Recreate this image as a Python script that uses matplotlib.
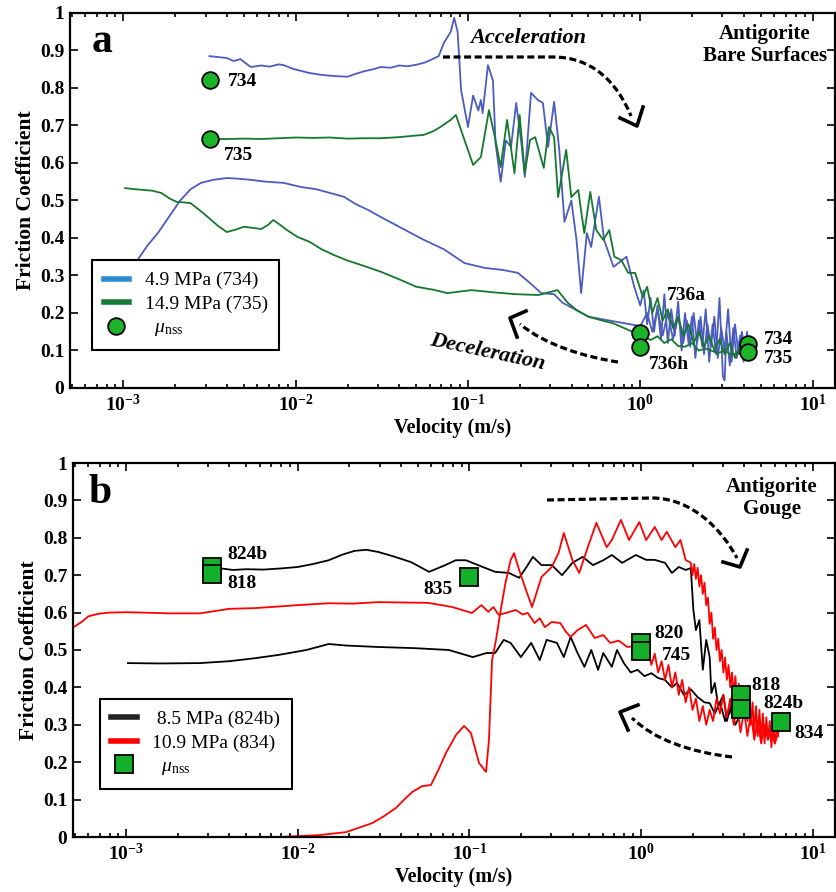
import numpy as np
import matplotlib
matplotlib.use("Agg")
import matplotlib.pyplot as plt
from matplotlib.path import Path
from matplotlib.patches import PathPatch
from matplotlib.lines import Line2D
from matplotlib.font_manager import FontProperties

plt.rcParams['font.family'] = ['Liberation Serif', 'DejaVu Serif']
plt.rcParams['font.weight'] = 'bold'
plt.rcParams['mathtext.fontset'] = 'custom'
plt.rcParams['mathtext.rm'] = 'Liberation Serif:regular'
plt.rcParams['mathtext.it'] = 'Liberation Serif:italic:regular'
plt.rcParams['mathtext.bf'] = 'Liberation Serif:bold'

# ---- panel a : bare surfaces (log10 velocity, friction) ----
a734_acc_logv = [-2.50, -2.44, -2.40, -2.36, -2.32, -2.29, -2.26, -2.20, -2.15, -2.10, -2.07, -2.02, -1.99,
                 -1.92, -1.85, -1.78, -1.70, -1.65, -1.60, -1.55, -1.506, -1.45, -1.40, -1.35, -1.30, -1.25,
                 -1.215, -1.17, -1.14, -1.10, -1.08, -1.06, -1.04, -1.00, -0.97, -0.94, -0.925, -0.915,
                 -0.884, -0.855, -0.84, -0.81, -0.78, -0.75, -0.72, -0.69, -0.67, -0.634, -0.594, -0.565,
                 -0.535, -0.50, -0.47, -0.44, -0.40, -0.37, -0.343, -0.31, -0.285, -0.24, -0.21, -0.155,
                 -0.08, -0.035,
                 0.00, 0.02, 0.04, 0.06, 0.08, 0.10, 0.12, 0.14, 0.16, 0.18, 0.20, 0.22, 0.24, 0.26, 0.28,
                 0.30, 0.32, 0.34, 0.36, 0.38, 0.40, 0.42, 0.44, 0.46, 0.48, 0.49, 0.50, 0.52, 0.54, 0.56,
                 0.58, 0.60, 0.62, 0.63]
a734_acc_mu = [0.885, 0.882, 0.880, 0.872, 0.877, 0.866, 0.856, 0.860, 0.857, 0.863, 0.861, 0.852, 0.848,
               0.840, 0.835, 0.832, 0.830, 0.838, 0.845, 0.850, 0.856, 0.854, 0.860, 0.858, 0.862, 0.868,
               0.875, 0.885, 0.92, 0.95, 0.987, 0.95, 0.795, 0.696, 0.78, 0.74, 0.768, 0.733,
               0.861, 0.82, 0.653, 0.55, 0.66, 0.643, 0.76, 0.653, 0.563, 0.787, 0.768, 0.76,
               0.643, 0.763, 0.635, 0.443, 0.50, 0.395, 0.253, 0.413, 0.376, 0.51, 0.395, 0.323,
               0.35, 0.27,
               0.22, 0.26, 0.17, 0.24, 0.15, 0.22, 0.13, 0.25, 0.12, 0.21, 0.14, 0.23, 0.10, 0.20, 0.12,
               0.19, 0.08, 0.18, 0.11, 0.21, 0.07, 0.17, 0.09, 0.24, 0.03, 0.02, 0.15, 0.06, 0.16, 0.08,
               0.14, 0.07, 0.15, 0.10]

a734_dec_logv = [-3.00, -2.96, -2.92, -2.86, -2.80, -2.73, -2.67, -2.61, -2.55, -2.48, -2.40, -2.33, -2.26,
                 -2.17, -2.07, -1.97, -1.88, -1.80, -1.72, -1.65, -1.58, -1.506, -1.40, -1.256, -1.14,
                 -1.02, -0.90, -0.80, -0.71, -0.64, -0.575, -0.50, -0.45, -0.38, -0.30, -0.18, -0.06, 0.00,
                 0.04, 0.07, 0.10, 0.13, 0.16, 0.19, 0.22, 0.25, 0.27, 0.29, 0.31, 0.33, 0.35, 0.37, 0.39,
                 0.41, 0.43, 0.45, 0.47, 0.49, 0.51, 0.53, 0.55, 0.57, 0.59, 0.61, 0.63]
a734_dec_mu = [0.29, 0.31, 0.34, 0.38, 0.413, 0.46, 0.50, 0.53, 0.547, 0.555, 0.56, 0.558, 0.555,
               0.55, 0.547, 0.536, 0.53, 0.52, 0.51, 0.49, 0.475, 0.456, 0.43, 0.395, 0.37,
               0.333, 0.32, 0.315, 0.307, 0.28, 0.253, 0.25, 0.227, 0.21, 0.19, 0.18, 0.17, 0.165,
               0.20, 0.15, 0.21, 0.14, 0.20, 0.13, 0.19, 0.12, 0.18, 0.11, 0.20, 0.12, 0.19, 0.09, 0.17,
               0.11, 0.19, 0.08, 0.16, 0.10, 0.21, 0.07, 0.17, 0.09, 0.15, 0.08, 0.13]

a735_acc_logv = [-2.50, -2.40, -2.30, -2.20, -2.10, -2.00, -1.90, -1.80, -1.70, -1.60, -1.506, -1.40, -1.33,
                 -1.256, -1.20, -1.16, -1.10, -1.07, -1.02, -0.97, -0.925, -0.878, -0.84, -0.81, -0.773,
                 -0.73, -0.70, -0.67, -0.64, -0.61, -0.56, -0.53, -0.50, -0.477, -0.43, -0.40, -0.36,
                 -0.325, -0.29, -0.255, -0.215, -0.18, -0.15, -0.11, -0.07, -0.03, 0.015,
                 0.04, 0.07, 0.10, 0.13, 0.16, 0.19, 0.22, 0.25, 0.28, 0.31, 0.34, 0.37, 0.40, 0.43, 0.46,
                 0.49, 0.52, 0.55, 0.58, 0.61, 0.63]
a735_acc_mu = [0.663, 0.664, 0.665, 0.664, 0.666, 0.668, 0.667, 0.668, 0.665, 0.666, 0.666, 0.669, 0.672,
               0.675, 0.685, 0.696, 0.715, 0.728, 0.661, 0.595, 0.616, 0.741, 0.661, 0.589, 0.715,
               0.573, 0.728, 0.573, 0.661, 0.669, 0.587, 0.696, 0.669, 0.509, 0.635, 0.509, 0.528,
               0.413, 0.523, 0.421, 0.395, 0.421, 0.35, 0.341, 0.307, 0.307, 0.243,
               0.27, 0.20, 0.24, 0.18, 0.21, 0.16, 0.19, 0.14, 0.17, 0.12, 0.15, 0.11, 0.14, 0.10, 0.13,
               0.09, 0.12, 0.08, 0.11, 0.09, 0.10]

a735_dec_logv = [-2.99, -2.93, -2.88, -2.83, -2.78, -2.73, -2.69, -2.65, -2.61, -2.56, -2.51, -2.45, -2.40,
                 -2.35, -2.30, -2.25, -2.20, -2.16, -2.13, -2.09, -2.05, -1.99, -1.92, -1.85, -1.78, -1.70,
                 -1.60, -1.506, -1.40, -1.30, -1.20, -1.12, -0.98, -0.85, -0.72, -0.59, -0.48, -0.42,
                 -0.37, -0.30, -0.23, -0.16, -0.07, 0.00,
                 0.06, 0.10, 0.14, 0.18, 0.22, 0.26, 0.30, 0.34, 0.38, 0.41, 0.45, 0.49, 0.53, 0.57, 0.60, 0.63]
a735_dec_mu = [0.533, 0.530, 0.528, 0.526, 0.52, 0.505, 0.496, 0.495, 0.493, 0.475, 0.456, 0.432, 0.416,
               0.422, 0.43, 0.427, 0.424, 0.435, 0.448, 0.435, 0.421, 0.403, 0.39, 0.37, 0.355, 0.34,
               0.325, 0.31, 0.29, 0.27, 0.262, 0.253, 0.261, 0.255, 0.25, 0.248, 0.261, 0.227,
               0.208, 0.19, 0.181, 0.173, 0.155, 0.141,
               0.128, 0.138, 0.12, 0.13, 0.112, 0.11, 0.12, 0.10, 0.105, 0.10, 0.093, 0.10, 0.088, 0.095, 0.085, 0.09]

a_nss_logv = [-2.50, -2.50, 0.0, 0.0, 0.628, 0.628]
a_nss_mu = [0.822, 0.665, 0.147, 0.11, 0.117, 0.096]
a_nss_labels = ['734', '735', '736a', '736h', '734', '735']

# ---- panel b : gouge ----
b824_acc_logv = [-2.46, -2.38, -2.30, -2.20, -2.10, -2.00, -1.91, -1.82, -1.74, -1.67, -1.60, -1.53, -1.44,
                 -1.34, -1.235, -1.14, -1.08, -1.02, -0.95, -0.85, -0.77, -0.71, -0.67, -0.63, -0.58, -0.52,
                 -0.46, -0.40, -0.34, -0.28, -0.22, -0.17, -0.11, -0.03, 0.03, 0.08, 0.14, 0.18, 0.22, 0.26,
                 0.29, 0.305, 0.32, 0.34, 0.36, 0.38, 0.40, 0.41, 0.43, 0.45, 0.48, 0.50, 0.53, 0.56, 0.58]
b824_acc_mu = [0.719, 0.714, 0.716, 0.715, 0.718, 0.722, 0.73, 0.74, 0.755, 0.765, 0.768, 0.762, 0.75,
               0.735, 0.709, 0.727, 0.74, 0.74, 0.727, 0.709, 0.706, 0.693, 0.72, 0.749, 0.727, 0.727,
               0.70, 0.733, 0.749, 0.727, 0.74, 0.754, 0.733, 0.754, 0.741, 0.741, 0.733, 0.706, 0.722, 0.714,
               0.719, 0.607, 0.553, 0.58, 0.447, 0.527, 0.481, 0.385, 0.412, 0.35, 0.38, 0.31, 0.36, 0.32, 0.35]

b824_dec_logv = [-2.99, -2.80, -2.57, -2.40, -2.25, -2.11, -1.95, -1.82, -1.72, -1.53, -1.32, -1.12, -0.98,
                 -0.90, -0.85, -0.80, -0.76, -0.70, -0.64, -0.59, -0.55, -0.49, -0.45, -0.41, -0.37, -0.33,
                 -0.29, -0.25, -0.22, -0.17, -0.14, -0.10, -0.06, -0.02, 0.02, 0.06, 0.10, 0.14, 0.18, 0.21,
                 0.25, 0.29, 0.33, 0.37, 0.40, 0.43, 0.46, 0.49, 0.52, 0.55, 0.58]
b824_dec_mu = [0.465, 0.464, 0.465, 0.47, 0.478, 0.487, 0.50, 0.516, 0.512, 0.508, 0.505, 0.50, 0.481,
               0.492, 0.492, 0.527, 0.519, 0.481, 0.519, 0.473, 0.527, 0.519, 0.481, 0.535, 0.492, 0.455,
               0.50, 0.447, 0.492, 0.455, 0.50, 0.465, 0.44, 0.447, 0.43, 0.438, 0.425, 0.42, 0.40, 0.412,
               0.38, 0.395, 0.374, 0.36, 0.358, 0.33, 0.36, 0.31, 0.34, 0.30, 0.33]

b834_acc_logv = [-3.30, -2.70, -2.40, -2.109, -1.876, -1.719, -1.567, -1.50, -1.427, -1.38, -1.334, -1.276,
                 -1.224, -1.18, -1.136, -1.078, -1.031, -0.991, -0.944, -0.903, -0.886, -0.868, -0.845, -0.82,
                 -0.79, -0.76, -0.74, -0.71, -0.67, -0.635, -0.58, -0.52, -0.48, -0.45, -0.40, -0.36, -0.31,
                 -0.26, -0.20, -0.17, -0.117, -0.07, -0.01, 0.03, 0.08, 0.12, 0.15, 0.20, 0.23, 0.26,
                 0.29, 0.30, 0.31, 0.32, 0.33, 0.34, 0.35, 0.36, 0.37, 0.38, 0.39, 0.40, 0.41, 0.42, 0.43,
                 0.44, 0.45, 0.46, 0.47, 0.48, 0.49, 0.50, 0.51, 0.52, 0.53, 0.54, 0.55, 0.56, 0.57, 0.58,
                 0.59, 0.60, 0.61, 0.62, 0.63, 0.64, 0.65, 0.66, 0.67, 0.68, 0.69, 0.70, 0.71, 0.72, 0.73,
                 0.74, 0.75, 0.76, 0.77, 0.78, 0.79, 0.80]
b834_acc_mu = [0.0, 0.0, 0.0, 0.0, 0.005, 0.013, 0.037, 0.055, 0.078, 0.10, 0.12, 0.136,
               0.139, 0.18, 0.225, 0.273, 0.297, 0.278, 0.198, 0.174, 0.26, 0.473, 0.527, 0.60,
               0.679, 0.74, 0.759, 0.714, 0.66, 0.615, 0.695, 0.722, 0.76, 0.813, 0.741, 0.706, 0.775,
               0.84, 0.775, 0.794, 0.848, 0.794, 0.842, 0.794, 0.829, 0.794, 0.816, 0.775, 0.794, 0.741,
               0.733, 0.70, 0.73, 0.69, 0.72, 0.67, 0.70, 0.65, 0.68, 0.62, 0.64, 0.57, 0.60, 0.53, 0.56,
               0.50, 0.53, 0.47, 0.50, 0.44, 0.48, 0.42, 0.46, 0.40, 0.44, 0.38, 0.43, 0.36, 0.41, 0.34,
               0.39, 0.33, 0.40, 0.31, 0.37, 0.30, 0.36, 0.28, 0.35, 0.27, 0.34, 0.26, 0.33, 0.25, 0.32,
               0.26, 0.31, 0.24, 0.30, 0.25, 0.29, 0.27]

b834_dec_logv = [-3.31, -3.26, -3.22, -3.16, -3.10, -3.00, -2.90, -2.75, -2.57, -2.40, -2.25, -2.15, -2.00,
                 -1.82, -1.68, -1.53, -1.38, -1.24, -1.10, -0.985, -0.93, -0.89, -0.86, -0.83, -0.78, -0.73,
                 -0.69, -0.66, -0.62, -0.59, -0.56, -0.52, -0.47, -0.44, -0.41, -0.37, -0.32, -0.27, -0.22,
                 -0.18, -0.13, -0.08, -0.04,
                 0.00, 0.02, 0.04, 0.06, 0.08, 0.10, 0.12, 0.14, 0.16, 0.18, 0.20, 0.22, 0.24, 0.26, 0.28,
                 0.30, 0.32, 0.34, 0.36, 0.38, 0.40, 0.42, 0.44, 0.46, 0.48, 0.50, 0.52, 0.54, 0.56, 0.58,
                 0.60, 0.62, 0.64, 0.66, 0.68, 0.70, 0.72, 0.74, 0.76, 0.78, 0.80]
b834_dec_mu = [0.56, 0.575, 0.59, 0.597, 0.60, 0.601, 0.60, 0.598, 0.598, 0.61, 0.612, 0.615, 0.62,
               0.625, 0.624, 0.628, 0.627, 0.626, 0.615, 0.599, 0.62, 0.602, 0.615, 0.594, 0.60, 0.607,
               0.595, 0.599, 0.572, 0.585, 0.561, 0.575, 0.572, 0.55, 0.535, 0.553, 0.567, 0.532, 0.54,
               0.519, 0.525, 0.508, 0.51,
               0.50, 0.48, 0.51, 0.46, 0.49, 0.44, 0.47, 0.42, 0.46, 0.40, 0.44, 0.38, 0.42, 0.36, 0.40,
               0.34, 0.37, 0.31, 0.35, 0.30, 0.34, 0.31, 0.37, 0.33, 0.38, 0.32, 0.37, 0.30, 0.35, 0.28,
               0.34, 0.27, 0.33, 0.26, 0.31, 0.25, 0.30, 0.26, 0.29, 0.25, 0.28]

b_nss_logv = [-2.50, -2.50, -1.0, 0.0, 0.0, 0.58, 0.58, 0.818]
b_nss_mu = [0.722, 0.703, 0.695, 0.52, 0.497, 0.38, 0.342, 0.307]
b_nss_labels = ['824b', '818', '835', '820', '745', '818', '824b', '834']

yticks = [0, 0.1, 0.2, 0.3, 0.4, 0.5, 0.6, 0.7, 0.8, 0.9, 1]
ytick_labels = ['0', '0.1', '0.2', '0.3', '0.4', '0.5', '0.6', '0.7', '0.8', '0.9', '1']
xticks = [1e-3, 1e-2, 1e-1, 1, 10]
xtick_labels = [r'$\mathbf{10^{-3}}$', r'$\mathbf{10^{-2}}$', r'$\mathbf{10^{-1}}$',
                r'$\mathbf{10^{0}}$', r'$\mathbf{10^{1}}$']

BLUE = '#4a5cc0'
GREEN = '#15782c'
DOT = '#1cb52a'
W, H = 837, 892

fig = plt.figure(figsize=(W / 100, H / 100), dpi=100)
ax1 = fig.add_axes([70 / W, 1 - 388 / H, 765 / W, 375 / H])
ax2 = fig.add_axes([73 / W, 1 - 837 / H, 762 / W, 374 / H])


def pw(l):
    return 10 ** np.array(l)


def style(ax):
    ax.set_xscale('log')
    ax.set_xlim(4.9e-4, 13.5)
    ax.set_ylim(0, 1)
    ax.set_xticks(xticks, xtick_labels)
    ax.set_yticks(yticks, ytick_labels)
    ax.tick_params(which='both', direction='in', top=True, right=True, labelsize=14, width=1.2)
    ax.tick_params(which='major', length=6, pad=4)
    ax.tick_params(which='minor', length=3)
    for s in ax.spines.values():
        s.set_linewidth(1.6)
    ax.set_xlabel('Velocity (m/s)', fontsize=14.5, fontweight='bold', labelpad=2)
    ax.set_ylabel('Friction Coefficient', fontsize=15.5, fontweight='bold', labelpad=3)


# panel a
ax1.plot(pw(a734_acc_logv), a734_acc_mu, color=BLUE, lw=1.3)
ax1.plot(pw(a734_dec_logv), a734_dec_mu, color=BLUE, lw=1.3)
ax1.plot(pw(a735_acc_logv), a735_acc_mu, color=GREEN, lw=1.3)
ax1.plot(pw(a735_dec_logv), a735_dec_mu, color=GREEN, lw=1.3)
ax1.plot(pw(a_nss_logv), a_nss_mu, 'o', ms=12, mfc=DOT, mec='k', mew=1.3, zorder=5)
a_offsets = [(13, -1.5), (10, -12), (19, 27), (6, -13), (11, 3.5), (11, -5)]
for lv, m, t, off in zip(a_nss_logv, a_nss_mu, a_nss_labels, a_offsets):
    ax1.annotate(t, (10 ** lv, m), xytext=off, textcoords='offset points',
                 ha='left', va='center', fontsize=14, fontweight='bold')
style(ax1)

ax1.text(0.042, 0.923, 'a', transform=ax1.transAxes, fontsize=30, fontweight='bold',
         ha='center', va='center')
ax1.text(0.908, 0.915, 'Antigorite\nBare Surfaces', transform=ax1.transAxes, fontsize=15,
         fontweight='bold', ha='center', va='center', linespacing=1.15)
ax1.text(0.599, 0.933, 'Acceleration', transform=ax1.transAxes, fontsize=16, fontweight='bold',
         style='italic', ha='center', va='center')
ax1.text(0.546, 0.096, 'Deceleration', transform=ax1.transAxes, fontsize=16, fontweight='bold',
         style='italic', ha='center', va='center', rotation=-12)

leg_font = FontProperties(family='Liberation Serif', weight='normal', size=14)
h1 = [Line2D([], [], color='#2a8bd4', lw=4),
      Line2D([], [], color='#157a36', lw=4),
      Line2D([], [], marker='o', ls='none', ms=12, mfc=DOT, mec='k', mew=1.3)]
leg1 = ax1.legend(h1, ['4.9 MPa (734)', '14.9 MPa (735)', r'  $\mu_{\mathrm{nss}}$'],
                  loc='upper left', bbox_to_anchor=(0.029, 0.341), borderaxespad=0,
                  fancybox=False, edgecolor='k', framealpha=1, prop=leg_font,
                  handlelength=1.3, labelspacing=0.3, borderpad=0.6, handletextpad=0.8)
leg1.get_frame().set_linewidth(1.5)

# panel b
ax2.plot(pw(b824_acc_logv), b824_acc_mu, color='k', lw=1.3)
ax2.plot(pw(b824_dec_logv), b824_dec_mu, color='k', lw=1.3)
ax2.plot(pw(b834_acc_logv), b834_acc_mu, color='red', lw=1.3)
ax2.plot(pw(b834_dec_logv), b834_dec_mu, color='red', lw=1.3)
ax2.plot(pw(b_nss_logv), b_nss_mu, 's', ms=12.5, mfc='#14b02a', mec='k', mew=1.3, zorder=5)
b_offsets = [(11, 9), (11, -7), (-12, -9), (9.5, 6.5), (15, -3), (8, 7), (16.5, 4), (9, -8)]
for lv, m, t, off in zip(b_nss_logv, b_nss_mu, b_nss_labels, b_offsets):
    ax2.annotate(t, (10 ** lv, m), xytext=off, textcoords='offset points',
                 ha='right' if off[0] < 0 else 'left', va='center', fontsize=14, fontweight='bold')
style(ax2)

ax2.text(0.035, 0.92, 'b', transform=ax2.transAxes, fontsize=30, fontweight='bold',
         ha='center', va='center')
ax2.text(0.917, 0.906, 'Antigorite\nGouge', transform=ax2.transAxes, fontsize=15,
         fontweight='bold', ha='center', va='center', linespacing=1.15)

h2 = [Line2D([], [], color='#222222', lw=4),
      Line2D([], [], color='red', lw=4),
      Line2D([], [], marker='s', ls='none', ms=12.5, mfc='#14b02a', mec='k', mew=1.3)]
leg2 = ax2.legend(h2, [' 8.5 MPa (824b)', '10.9 MPa (834)', r'  $\mu_{\mathrm{nss}}$'],
                  loc='upper left', bbox_to_anchor=(0.035, 0.369), borderaxespad=0,
                  fancybox=False, edgecolor='k', framealpha=1, prop=leg_font,
                  handlelength=1.3, labelspacing=0.3, borderpad=0.6, handletextpad=0.8)
leg2.get_frame().set_linewidth(1.5)


# dashed curved arrows, given in figure pixels (origin top-left)
def fxy(pts):
    return [(x / W, 1 - y / H) for x, y in pts]


def dashed_arrow(pts, head):
    codes = [Path.MOVETO] + [Path.LINETO] * (len(pts) - 4) + [Path.CURVE4] * 3
    fig.add_artist(PathPatch(Path(fxy(pts), codes), fill=False, lw=2.3, color='k',
                             ls=(0, (2.2, 1.1)), transform=fig.transFigure))
    hx, hy = zip(*fxy(head))
    fig.add_artist(Line2D(hx, hy, lw=2.6, color='k', transform=fig.transFigure))


dashed_arrow([(443, 57), (553, 57), (592, 57), (617, 82), (631, 116)],
             [(620, 118), (637, 126), (643, 107)])
dashed_arrow([(618, 362), (585, 357), (545, 345), (520, 324)],
             [(526, 311), (510, 318), (517, 337)])
dashed_arrow([(547, 500), (652, 498), (692, 498), (722, 530), (737, 558)],
             [(723, 562), (740, 567), (747, 550)])
dashed_arrow([(732, 757), (690, 752), (655, 740), (632, 718)],
             [(638, 705), (620, 712), (628, 730)])

fig.savefig('out.png', dpi=100)
